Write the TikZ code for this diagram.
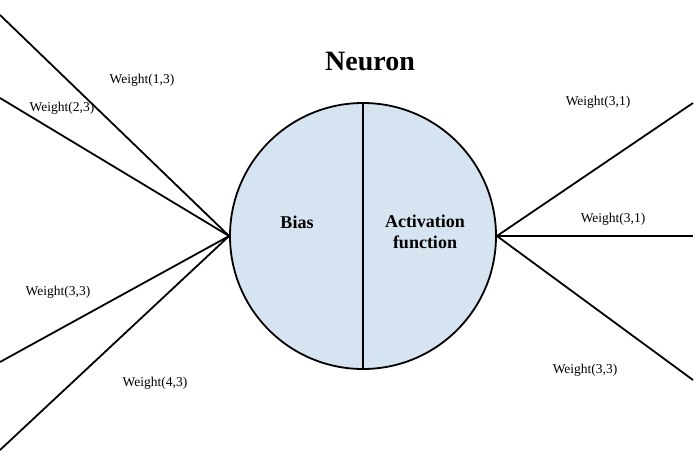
\documentclass[tikz,border=0pt]{standalone}
\usepackage{fontspec}
\setmainfont{Liberation Serif}
\usetikzlibrary{positioning}
\definecolor{cellblue}{RGB}{214,228,241}
\begin{document}
\begin{tikzpicture}[x=1pt,y=-1pt]
\tikzstyle{wire}=[line width=1.8pt, draw=black]
\tikzstyle{wlabel}=[font=\fontsize{13.5}{16}\selectfont]
\tikzstyle{inner}=[font=\fontsize{18}{21}\selectfont\bfseries, align=center]
\useasboundingbox (0,0) rectangle (700,455);
	\node[circle, draw=black, line width=1.8pt, fill=cellblue, minimum size=266pt, inner sep=0pt] (cell) at (363,236) {};
	\coordinate (in) at (cell.west);
	\coordinate (out) at (cell.east);
	\draw[wire] (cell.north) -- (cell.south);
	\node[font=\fontsize{28}{32}\selectfont\bfseries] (title) at (370,62) {Neuron};
	\node[inner] (bias) at (297,222) {Bias};
	\node[inner] (act) at (425,232) {Activation\\function};
	% inputs
	\coordinate (i_1) at (0,15);
	\coordinate (i_2) at (0,98);
	\coordinate (i_3) at (0,362);
	\coordinate (i_4) at (0,450);
	\coordinate (o_1) at (693,103);
	\coordinate (o_2) at (693,236);
	\coordinate (o_3) at (693,380);
	\foreach \i in {1,...,4} {\draw[wire] (i_\i) -- (in);}
	\foreach \o in {1,...,3} {\draw[wire] (out) -- (o_\o);}
	\node[wlabel] (w_1) at (142,80) {Weight(1,3)};
	\node[wlabel] (w_2) at (62,108) {Weight(2,3)};
	\node[wlabel] (w_3) at (58,292) {Weight(3,3)};
	\node[wlabel] (w_4) at (155,383) {Weight(4,3)};
	\node[wlabel] (v_1) at (598,102) {Weight(3,1)};
	\node[wlabel] (v_2) at (613,219) {Weight(3,1)};
	\node[wlabel] (v_3) at (585,370) {Weight(3,3)};
\end{tikzpicture}
\end{document}
